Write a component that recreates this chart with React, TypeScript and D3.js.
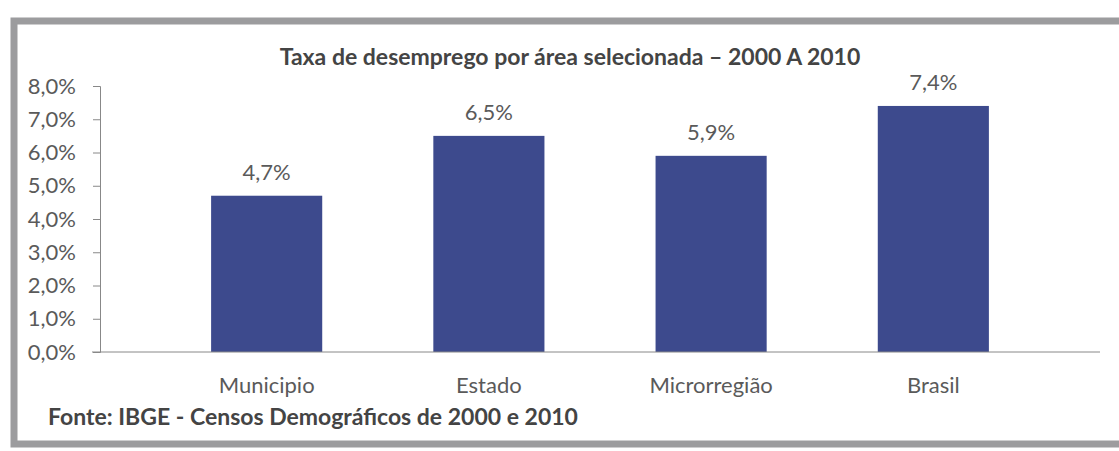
import { useEffect, useRef } from 'react'
import * as d3 from 'd3'

const categories = ['Municipio', 'Estado', 'Microrregião', 'Brasil']
const values = [4.7, 6.5, 5.9, 7.4]
const yTicks = [0, 1, 2, 3, 4, 5, 6, 7, 8]
const title = 'Taxa de desemprego por área selecionada – 2000 A 2010'
const source = 'Fonte: IBGE - Censos Demográficos de 2000 e 2010'

const fmt = (v: number) => v.toFixed(1).replace('.', ',') + '%'

export default function App() {
  const svgRef = useRef<SVGSVGElement | null>(null)

  useEffect(() => {
    if (!svgRef.current) return
    const svg = d3.select(svgRef.current)
    svg.selectAll('*').remove()

    const W = 1119
    const H = 451
    const font = 'Lato, "Open Sans", sans-serif'
    const textColor = '#5a5a5a'

    svg.attr('width', W).attr('height', H)
    svg.append('rect').attr('width', W).attr('height', H).attr('fill', '#fff')

    // frame
    svg
      .append('rect')
      .attr('x', 14)
      .attr('y', 21)
      .attr('width', 1110)
      .attr('height', 423)
      .attr('fill', 'none')
      .attr('stroke', '#9c9c9e')
      .attr('stroke-width', 7)

    const left = 100
    const right = 1100
    const top = 86
    const bottom = 352

    const x = d3.scaleBand<string>().domain(categories).range([left, right]).padding(0.5)
    const y = d3.scaleLinear().domain([0, 8]).range([bottom, top])

    // bars
    svg
      .selectAll('.bar')
      .data(values)
      .enter()
      .append('rect')
      .attr('class', 'bar')
      .attr('x', (_, i) => x(categories[i]) as number)
      .attr('y', (d) => y(d))
      .attr('width', x.bandwidth())
      .attr('height', (d) => bottom - y(d))
      .attr('fill', '#3d4a8d')

    // value labels
    svg
      .selectAll('.val')
      .data(values)
      .enter()
      .append('text')
      .attr('x', (_, i) => (x(categories[i]) as number) + x.bandwidth() / 2)
      .attr('y', (d) => y(d) - 16)
      .attr('text-anchor', 'middle')
      .style('font-family', font)
      .style('font-size', '22px')
      .attr('fill', textColor)
      .text((d) => fmt(d))

    // y axis
    const yAxis = svg
      .append('g')
      .attr('transform', `translate(${left},0)`)
      .call(d3.axisLeft(y).tickValues(yTicks).tickSize(7).tickPadding(17).tickFormat((d) => fmt(+d)))
    yAxis.select('.domain').attr('stroke', '#888')
    yAxis.selectAll('.tick line').attr('stroke', '#888')
    yAxis
      .selectAll('text')
      .style('font-family', font)
      .style('font-size', '22px')
      .attr('fill', textColor)

    // x axis line
    svg
      .append('line')
      .attr('x1', 92)
      .attr('x2', right)
      .attr('y1', bottom)
      .attr('y2', bottom)
      .attr('stroke', '#888')

    // category labels
    svg
      .selectAll('.cat')
      .data(categories)
      .enter()
      .append('text')
      .attr('x', (d) => (x(d) as number) + x.bandwidth() / 2)
      .attr('y', 393)
      .attr('text-anchor', 'middle')
      .style('font-family', font)
      .style('font-size', '22px')
      .attr('fill', textColor)
      .text((d) => d)

    svg
      .append('text')
      .attr('x', 570)
      .attr('y', 65)
      .attr('text-anchor', 'middle')
      .style('font-family', font)
      .style('font-size', '23px')
      .style('font-weight', 'bold')
      .attr('fill', '#444')
      .text(title)

    svg
      .append('text')
      .attr('x', 48)
      .attr('y', 425)
      .style('font-family', font)
      .style('font-size', '23px')
      .style('font-weight', 'bold')
      .attr('fill', '#444')
      .text(source)
  }, [])

  return (
    <div style={{ position: 'absolute', left: 0, top: 0 }}>
      <svg ref={svgRef} style={{ display: 'block' }}></svg>
    </div>
  )
}
